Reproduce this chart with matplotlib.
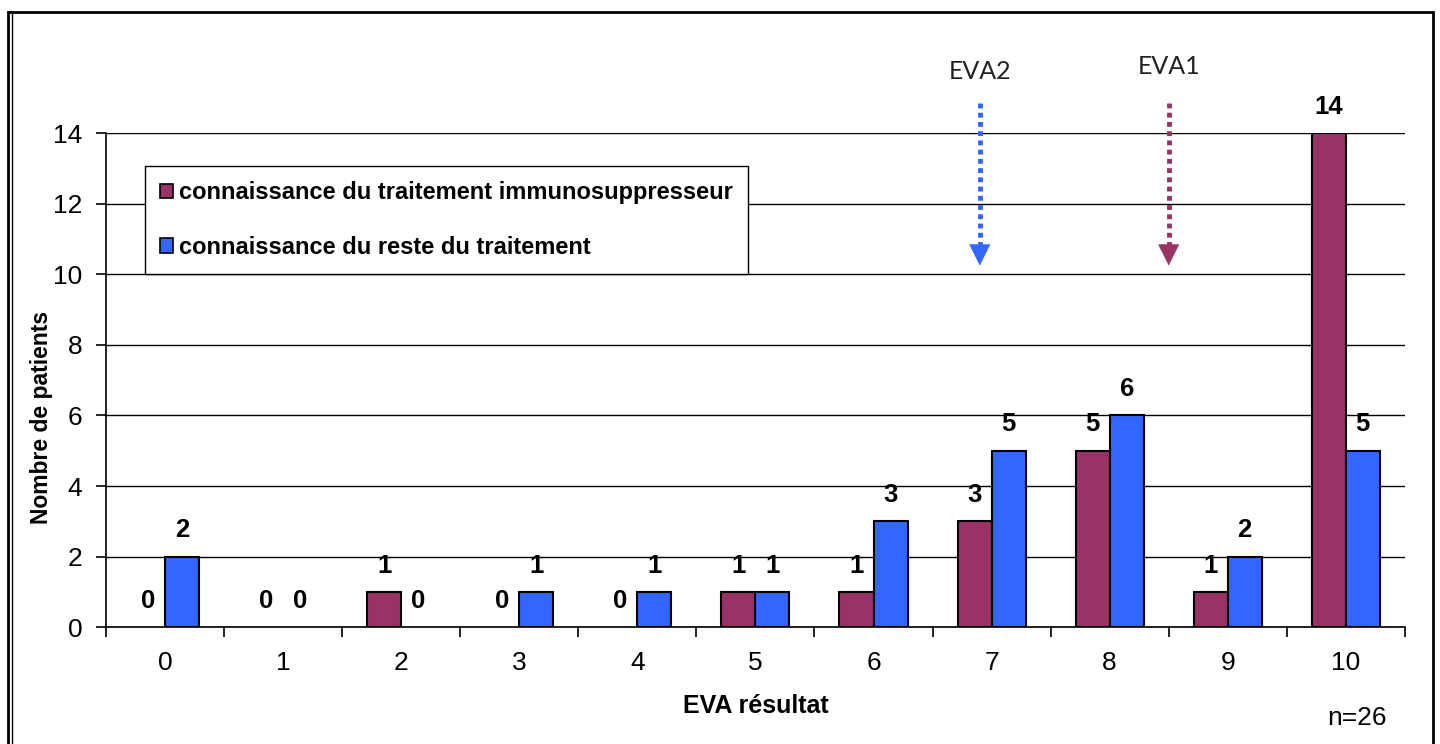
import matplotlib.pyplot as plt
import numpy as np
from matplotlib.patches import Rectangle
from matplotlib.lines import Line2D

plt.rcParams['font.family'] = ['Liberation Sans', 'DejaVu Sans']

# data
scores = [0, 1, 2, 3, 4, 5, 6, 7, 8, 9, 10]
immuno = [0, 0, 1, 0, 0, 1, 1, 3, 5, 1, 14]
reste = [2, 0, 0, 1, 1, 1, 3, 5, 6, 2, 5]
series_labels = ["connaissance du traitement immunosuppresseur",
                 "connaissance du reste du traitement"]
eva_names = ["EVA2", "EVA1"]
eva_values = [6.9, 8.5]

col_immuno = "#993366"
col_reste = "#3366FF"

fig = plt.figure(figsize=(14.4, 7.44), dpi=100)
ax = fig.add_axes([0.0736, 0.157, 0.902, 0.664])

x = np.arange(len(scores))
w = 0.288
b1 = ax.bar(x - w / 2, immuno, w, color=col_immuno, edgecolor="black", linewidth=1.5, zorder=3)
b2 = ax.bar(x + w / 2, reste, w, color=col_reste, edgecolor="black", linewidth=1.5, zorder=3)

for bars, vals in ((b1, immuno), (b2, reste)):
    for r, v in zip(bars, vals):
        if v == 0:
            r.set_linewidth(0)
        ax.annotate(str(v), (r.get_x() + r.get_width() / 2, v), xytext=(0, 19),
                    textcoords="offset points", ha="center", va="center",
                    fontsize=18.5, fontweight="bold")

ax.set_xlim(-0.5, len(scores) - 0.5)
ax.set_ylim(0, 14)
ax.set_yticks(range(0, 15, 2))
ax.set_xticks(x)
ax.set_xticklabels([str(s) for s in scores])
ax.set_xticks(np.arange(-0.5, len(scores), 1), minor=True)
ax.tick_params(axis="x", which="major", length=0, pad=17, labelsize=19)
ax.tick_params(axis="x", which="minor", length=7, width=1.2, direction="out")
ax.tick_params(axis="y", length=7, width=1.2, pad=10, labelsize=19)
ax.grid(axis="y", color="black", linewidth=1, zorder=0)
ax.set_axisbelow(True)
for s in ("top", "right"):
    ax.spines[s].set_visible(False)
ax.spines["left"].set_linewidth(1.2)
ax.spines["bottom"].set_linewidth(1.2)

ax.set_xlabel("EVA résultat", fontsize=18, fontweight="bold")
ax.set_ylabel("Nombre de patients", fontsize=16.5, fontweight="bold")
ax.xaxis.set_label_coords(0.5, -0.135)
ax.yaxis.set_label_coords(-0.041, 0.425)

handles = [Rectangle((0, 0), 1, 1, facecolor=col_immuno, edgecolor="black", linewidth=1.2),
           Rectangle((0, 0), 1, 1, facecolor=col_reste, edgecolor="black", linewidth=1.2)]
leg = ax.legend(handles, series_labels, loc="upper left", bbox_to_anchor=(145 / 1440, 1 - 166 / 744),
                bbox_transform=fig.transFigure, fancybox=False, framealpha=1,
                edgecolor="black", prop={"weight": "bold", "size": 17},
                handlelength=0.55, handleheight=0.55, handletextpad=0.25,
                labelspacing=1.33, borderpad=0.65, borderaxespad=0)
leg.get_frame().set_linewidth(1.0)

# EVA arrows
eva_cols = [col_reste, col_immuno]
eva_label_y = [15.75, 15.9]
for name, val, c, ly in zip(eva_names, eva_values, eva_cols, eva_label_y):
    ax.plot([val, val], [14.85, 10.8], color=c, lw=3.5, linestyle=(0, (1, 0.9)),
            dash_capstyle="butt", clip_on=False, zorder=4)
    ax.annotate("", xy=(val, 10.25), xytext=(val, 10.8),
                arrowprops=dict(arrowstyle="-|>,head_length=0.9,head_width=0.45", color=c,
                                lw=0.5, mutation_scale=16, shrinkA=0, shrinkB=0),
                annotation_clip=False, zorder=4)
    ax.text(val, ly, name, ha="center", va="center", fontsize=18,
            family=["Lato", "DejaVu Sans"], color="#222222", clip_on=False)

fig.text(1357 / 1440, 1 - 718 / 744, "n=26", ha="center", va="center", fontsize=19)

# outer frame
fig.patches.append(Rectangle((8 / 1440, -0.02), (1433 - 8) / 1440, 1.02 - 12 / 744,
                             transform=fig.transFigure, fill=False, edgecolor="black", linewidth=2))
fig.lines.append(Line2D([11.5 / 1440, 11.5 / 1440], [0, 1 - 12 / 744], transform=fig.transFigure,
                        color="black", linewidth=1))

fig.savefig("out.png", dpi=100)
